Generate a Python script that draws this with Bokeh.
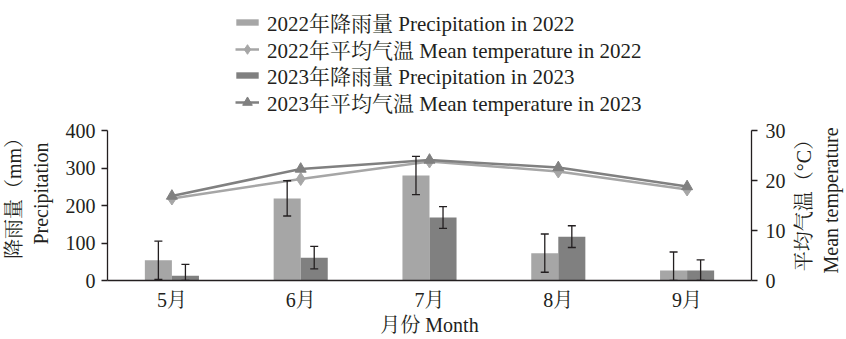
import numpy as np
from bokeh.plotting import figure
from bokeh.models import (Range1d, LinearAxis, Whisker, ColumnDataSource, Legend,
                          LegendItem, TeeHead, FixedTicker, Label)
from bokeh.transform import dodge
from bokeh.embed import file_html
from bokeh.resources import INLINE

months = ["5月", "6月", "7月", "8月", "9月"]
precip_2022 = [54, 219, 280, 73, 27]
precip_2022_err = [51, 47, 51, 51, 49]
precip_2023 = [13, 61, 168, 117, 27]
precip_2023_err = [30, 30, 29, 29, 28]
temp_2022 = [16.4, 20.3, 23.8, 21.8, 18.2]
temp_2023 = [16.9, 22.3, 24.1, 22.6, 18.8]
precip_ticks = [0, 100, 200, 300, 400]
temp_ticks = [0, 10, 20, 30]
legend_labels = ["2022年降雨量 Precipitation in 2022",
                 "2022年平均气温 Mean temperature in 2022",
                 "2023年降雨量 Precipitation in 2023",
                 "2023年平均气温 Mean temperature in 2023"]
left_title = "降雨量（mm）\nPrecipitation"
right_title = "平均气温（°C）\nMean temperature"
x_title = "月份 Month"

FONT = "Liberation Serif, Noto Serif CJK SC, Noto Sans CJK SC"
TXT = "#231f20"
C22 = "#a6a6a6"
C23 = "#808080"

src = ColumnDataSource(dict(
    month=months,
    p22=precip_2022, p23=precip_2023,
    p22_up=[v + e for v, e in zip(precip_2022, precip_2022_err)],
    p22_lo=[max(0, v - e) for v, e in zip(precip_2022, precip_2022_err)],
    p23_up=[v + e for v, e in zip(precip_2023, precip_2023_err)],
    p23_lo=[max(0, v - e) for v, e in zip(precip_2023, precip_2023_err)],
    t22=temp_2022, t23=temp_2023,
))

# frame spans from the legend top down to the baseline; axes are bounded to the data ranges
FRAME_TOP, AXIS_TOP, BASE = 8, 130, 280
scale = (BASE - FRAME_TOP) / (BASE - AXIS_TOP)
p = figure(x_range=months, y_range=Range1d(0, 400 * scale), width=846, height=339,
           output_backend="svg", toolbar_location=None,
           min_border_left=107, min_border_right=95, min_border_top=FRAME_TOP,
           min_border_bottom=339 - BASE)
p.extra_y_ranges = {"temp": Range1d(0, 30 * scale)}

p.xgrid.visible = False
p.ygrid.visible = False
p.outline_line_color = None
p.background_fill_color = "white"

bw = 0.21
b22 = p.vbar(x=dodge("month", -bw / 2, range=p.x_range), top="p22", width=bw,
             source=src, fill_color=C22, line_color=None)
b23 = p.vbar(x=dodge("month", bw / 2, range=p.x_range), top="p23", width=bw,
             source=src, fill_color=C23, line_color=None)

for up, lo, off in (("p22_up", "p22_lo", -bw / 2), ("p23_up", "p23_lo", bw / 2)):
    w = Whisker(base=dodge("month", off, range=p.x_range), upper=up, lower=lo,
                source=src, line_color="#231f20", line_width=1.3, level="overlay",
                upper_head=TeeHead(size=8, line_color="#231f20", line_width=1.3),
                lower_head=TeeHead(size=8, line_color="#231f20", line_width=1.3))
    p.add_layout(w)

l22 = p.line("month", "t22", source=src, y_range_name="temp", line_color=C22, line_width=2.5)
m22 = p.scatter("month", "t22", source=src, y_range_name="temp", marker="diamond",
                size=13, fill_color=C22, line_color=C22)
l23 = p.line("month", "t23", source=src, y_range_name="temp", line_color=C23, line_width=2.5)
m23 = p.scatter("month", "t23", source=src, y_range_name="temp", marker="triangle",
                size=11, fill_color=C23, line_color=C23)

def style_axis(ax):
    ax.axis_line_color = "#231f20"
    ax.axis_line_width = 1.3
    ax.major_tick_line_color = "#231f20"
    ax.major_tick_line_width = 1.3
    ax.major_tick_out = 6
    ax.major_tick_in = 0
    ax.minor_tick_line_color = None
    ax.major_label_text_font = FONT
    ax.major_label_text_font_size = "20px"
    ax.major_label_text_color = TXT
    ax.axis_label_text_font = FONT
    ax.axis_label_text_font_size = "20px"
    ax.axis_label_text_font_style = "normal"
    ax.axis_label_text_color = TXT

ya = p.yaxis[0]
style_axis(ya)
ya.ticker = FixedTicker(ticks=precip_ticks)
ya.bounds = (precip_ticks[0], precip_ticks[-1])
ya.major_label_standoff = 6

xa = p.xaxis[0]
style_axis(xa)
xa.major_tick_line_color = None
xa.axis_label = x_title
xa.major_label_standoff = 2
xa.axis_label_standoff = 0

ra = LinearAxis(y_range_name="temp", ticker=FixedTicker(ticks=temp_ticks),
                bounds=(temp_ticks[0], temp_ticks[-1]))
style_axis(ra)
ra.major_label_standoff = 8
p.add_layout(ra, "right")

# axis titles, both reading bottom-to-top, centred on the bounded axes
p.add_layout(Label(x=29, y=16, x_units="screen", y_units="data", y_range_name="temp",
                   text=right_title, angle=np.pi / 2, text_align="center",
                   text_baseline="middle", text_font=FONT, text_font_size="20px",
                   text_color=TXT), "right")
p.add_layout(Label(x=13, y=232, x_units="screen", y_units="data",
                   text=left_title, angle=np.pi / 2, text_align="center",
                   text_baseline="middle", text_font=FONT, text_font_size="20px",
                   text_color=TXT), "left")

# legend: one row per entry so the row pitch matches the reference
entries = [([b22], 8, 28, 126, 6), ([l22, m22], 26, 24, 128, 8),
           ([b23], 8, 28, 126, 6), ([l23, m23], 26, 24, 128, 8)]
row_centers = [21.7, 48.3, 75.0, 101.7]
row_h = 21 * 1.448
for lab_txt, (rends, gh, gw, vx, so), cy in zip(legend_labels, entries, row_centers):
    lg = Legend(items=[LegendItem(label=lab_txt, renderers=rends)],
                location=(vx, BASE - cy - row_h / 2), orientation="vertical")
    lg.label_text_font = FONT
    lg.label_text_font_size = "21px"
    lg.label_text_color = TXT
    lg.glyph_width = gw
    lg.glyph_height = gh
    lg.label_height = 20
    lg.label_standoff = so
    lg.spacing = 0
    lg.padding = 0
    lg.margin = 0
    lg.border_line_color = None
    lg.background_fill_alpha = 0
    p.add_layout(lg, "center")

open("out.html", "w").write(file_html(p, INLINE))
